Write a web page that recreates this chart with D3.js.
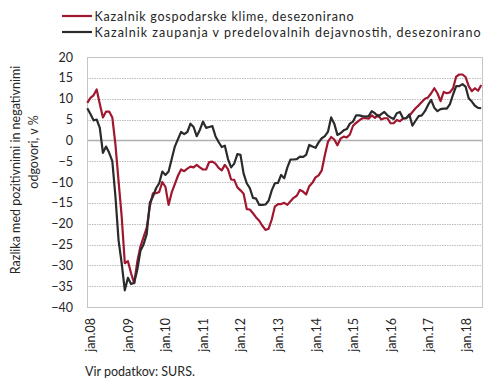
<!DOCTYPE html>
<html><head><meta charset="utf-8">
<script src="https://cdn.jsdelivr.net/npm/d3@7"></script>
<style>
html,body{margin:0;padding:0;background:#fff;}
text{font-family:Lato,"Open Sans",sans-serif;fill:#262626;}
</style></head>
<body><svg id="c" width="490" height="382"></svg>
<script>
// Monthly data, Dec 2007 (index 0) to Jun 2018 (index 126)
const seriesNames = ["Kazalnik gospodarske klime, desezonirano",
                     "Kazalnik zaupanja v predelovalnih dejavnostih, desezonirano"];
const climate = [
 9.0,10.2,10.8,12.2,8.7,5.5,6.9,6.9,5.5,-1.0,
 -9.8,-18.3,-29.5,-29.0,-31.9,-34.3,-29.1,-25.5,-23.2,-21.0,
 -15.9,-12.7,-12.7,-12.4,-10.0,-11.2,-15.5,-12.5,-10.5,-8.5,
 -7.0,-7.4,-6.8,-6.3,-6.5,-5.9,-6.5,-7.0,-7.0,-5.2,
 -5.1,-5.6,-6.6,-7.2,-5.9,-6.9,-9.4,-9.5,-11.3,-12.0,
 -12.8,-16.5,-16.6,-17.5,-18.5,-19.3,-20.5,-21.5,-21.2,-19.0,
 -15.9,-15.3,-15.3,-15.0,-15.5,-14.6,-13.8,-13.3,-11.9,-12.3,
 -13.0,-11.0,-10.2,-8.9,-8.4,-7.2,-3.5,-0.3,0.8,0.2,
 -1.2,0.4,0.9,0.7,1.4,3.5,4.2,4.8,5.3,5.3,
 5.2,6.0,5.4,6.1,5.0,5.3,5.3,4.1,4.1,4.9,
 4.6,5.2,5.3,5.9,6.8,7.7,8.4,9.2,10.0,10.3,
 11.3,12.5,11.3,9.4,11.6,11.3,11.5,12.5,15.3,15.8,
 15.8,15.2,13.0,11.8,12.5,11.9,13.3];
const manufacturing = [
 7.7,6.3,4.8,5.0,3.0,-3.0,-1.5,-3.0,-5.0,-13.5,
 -24.0,-29.5,-36.0,-33.0,-34.5,-34.2,-31.0,-26.5,-25.0,-22.5,
 -15.0,-13.5,-11.5,-10.3,-7.5,-8.3,-7.5,-4.5,-1.5,0.3,
 2.0,1.5,2.0,4.0,3.2,1.0,2.5,4.5,3.0,3.2,
 3.4,1.0,-0.4,-1.6,-1.3,-4.5,-6.5,-5.6,-3.3,-3.5,
 -8.0,-10.3,-11.5,-13.8,-14.0,-15.5,-15.5,-15.4,-14.5,-12.0,
 -10.3,-10.2,-8.3,-9.1,-6.5,-4.6,-4.6,-4.5,-3.9,-4.0,
 -3.5,-1.1,-1.5,-1.8,-0.5,0.5,1.0,2.1,5.5,4.0,
 1.3,1.7,2.4,2.7,4.0,4.5,6.0,6.0,5.8,5.7,
 5.8,7.0,6.5,5.7,6.3,6.8,6.0,5.5,5.1,6.5,
 6.8,5.3,5.3,6.2,3.5,4.7,5.8,6.0,7.0,8.5,
 9.7,7.8,7.0,7.5,7.6,7.6,8.7,11.0,13.0,13.0,
 13.5,12.9,10.1,9.3,8.3,7.8,7.7];
const xTickLabels = ["jan.08","jan.09","jan.10","jan.11","jan.12","jan.13","jan.14","jan.15","jan.16","jan.17","jan.18"];
const xTickIndex = [1,13,25,37,49,61,73,85,97,109,121];
const yTicks = [20,15,10,5,0,-5,-10,-15,-20,-25,-30,-35,-40];
const yTitle = ["Razlika med pozitivnimi in negativnimi","odgovori, v %"];
const source = "Vir podatkov:  SURS.";
const colors = ["#a0172f","#2b2b2b"];

const svg = d3.select("#c");
const L=87, R=482, T=57, B=307;
const x = d3.scaleLinear().domain([0, 126]).range([L+0.3, R-0.8]);
const y = d3.scaleLinear().domain([-40, 20]).range([B, T]);

// gridlines
svg.append("g").selectAll("line").data(yTicks.filter(v=>v!==20 && v!==-40 && v!==0)).join("line")
  .attr("x1",L).attr("x2",R).attr("y1",d=>Math.round(y(d))+0.5).attr("y2",d=>Math.round(y(d))+0.5)
  .attr("stroke","#bdbdbd").attr("stroke-width",1).attr("stroke-dasharray","1.5,1");
// zero line
svg.append("line").attr("x1",L).attr("x2",R).attr("y1",Math.round(y(0))+0.5).attr("y2",Math.round(y(0))+0.5)
  .attr("stroke","#b0b0b0").attr("stroke-width",1.3);
// frame
svg.append("rect").attr("x",L+0.5).attr("y",T+0.5).attr("width",R-L).attr("height",B-T)
  .attr("fill","none").attr("stroke","#c4c4c4").attr("stroke-width",1);

// y axis labels
const yAxis = d3.axisLeft(y).tickValues(yTicks).tickSize(0).tickPadding(0).tickFormat(d3.format("d"));
const gy = svg.append("g").attr("transform",`translate(${L-14},0)`).call(yAxis);
gy.select(".domain").remove();
gy.selectAll("text").style("font-size","12.5px").attr("fill","#262626").style("font-family","Lato,sans-serif");

// x axis labels
const xAxis = d3.axisBottom(x).tickValues(xTickIndex).tickSize(0).tickFormat((d,i)=>xTickLabels[i]);
const gx = svg.append("g").attr("transform",`translate(0,${B})`).call(xAxis);
gx.select(".domain").remove();
gx.selectAll("text").style("font-size","12.5px").attr("fill","#262626").style("font-family","Lato,sans-serif")
  .attr("text-anchor","end").attr("transform","translate(0,11) rotate(-90)").attr("x",0).attr("y",0).attr("dy","0.36em").attr("dx","0");

// lines
const line = d3.line().x((d,i)=>x(i)).y(d=>y(d)).curve(d3.curveLinear);
[climate, manufacturing].forEach((s,k)=>{
  svg.append("path").datum(s).attr("d",line).attr("fill","none")
    .attr("stroke",colors[k]).attr("stroke-width",2.2).attr("stroke-linejoin","round");
});

// legend
const legY = [16, 32];
const legLen = [259, 386];
seriesNames.forEach((n,k)=>{
  svg.append("line").attr("x1",62).attr("x2",92).attr("y1",legY[k]).attr("y2",legY[k])
    .attr("stroke",colors[k]).attr("stroke-width",2.2);
  svg.append("text").attr("x",94.5).attr("y",legY[k]).attr("dy","0.36em")
    .style("font-size","12.5px").attr("textLength",legLen[k]).attr("lengthAdjust","spacing").text(n);
});

// y title
svg.append("text").attr("transform","translate(15,170) rotate(-90)").attr("text-anchor","middle")
  .attr("dy","0.36em").style("font-size","12.5px").text(yTitle[0]);
svg.append("text").attr("transform","translate(33,152) rotate(-90)").attr("text-anchor","middle")
  .attr("dy","0.36em").style("font-size","12.5px").text(yTitle[1]);

// source
svg.append("text").attr("x",85).attr("y",376).style("font-size","12.5px").text(source);
</script></body></html>
